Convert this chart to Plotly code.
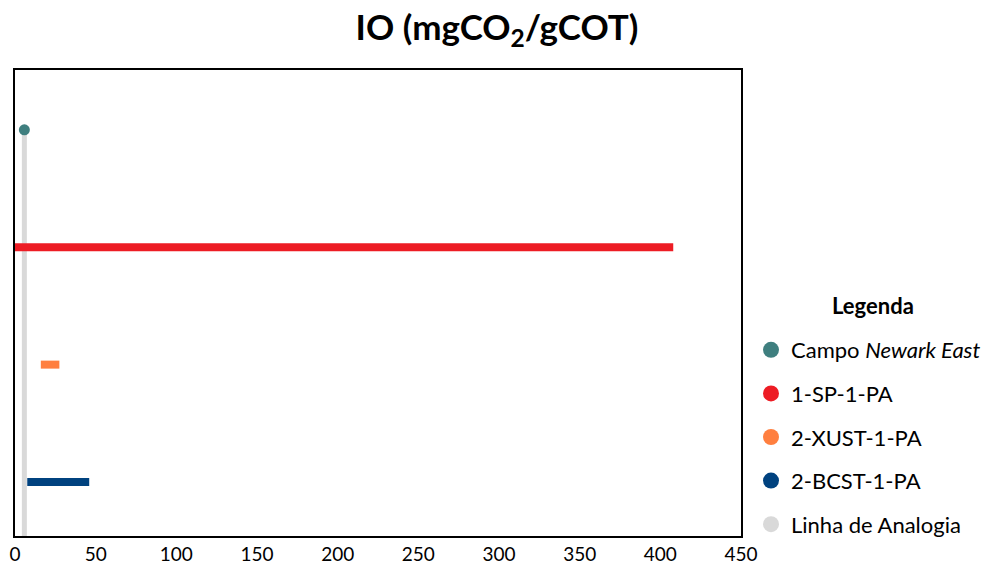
import plotly.graph_objects as go

# IO values (mgCO2/gCOT)
analogia_x = 5.8          # Newark East reference value / analogy line
campo_y = 4
poco_names = ["1-SP-1-PA", "2-XUST-1-PA", "2-BCST-1-PA"]
poco_min = [0, 16, 7.6]
poco_max = [408, 27.5, 46]
poco_y = [3, 2, 1]
poco_colors = ["#ED1C24", "#FF7F3F", "#00427F"]
y_bottom = 0.54
y_top = 4.51
x_ticks = [0, 50, 100, 150, 200, 250, 300, 350, 400, 450]

font_family = "Lato"
W, H = 994, 569
fig = go.Figure()

# analogy line
fig.add_trace(go.Scatter(
    x=[analogia_x, analogia_x], y=[y_bottom, campo_y], mode="lines",
    line=dict(color="#D9D9D9", width=5), showlegend=False, hoverinfo="skip"))

# well ranges
for name, lo, hi, y, c in zip(poco_names, poco_min, poco_max, poco_y, poco_colors):
    fig.add_trace(go.Scatter(
        x=[lo, hi], y=[y, y], mode="lines",
        line=dict(color=c, width=8), showlegend=False, name=name))

# field point
fig.add_trace(go.Scatter(
    x=[analogia_x], y=[campo_y], mode="markers",
    marker=dict(color="#3F7F7F", size=11), showlegend=False))

# legend entries
legend_items = [("Campo <i>Newark East</i>", "#3F7F7F")] + \
    list(zip(poco_names, poco_colors)) + [("Linha de Analogia", "#D9D9D9")]
for i, (label, c) in enumerate(legend_items):
    fig.add_trace(go.Scatter(
        x=[None], y=[None], mode="markers", name=label,
        marker=dict(color=c, size=20), legendgroup=f"g{i}", showlegend=True))

fig.add_annotation(text="<b>Legenda</b>", xref="paper", yref="paper",
                   x=(873 - 15) / 726, y=(536 - 305) / 466,
                   xanchor="center", yanchor="middle", showarrow=False,
                   font=dict(size=22, family=font_family))

fig.update_layout(
    width=W, height=H,
    margin=dict(l=15, r=253, t=70, b=33, autoexpand=False),
    paper_bgcolor="white", plot_bgcolor="white",
    font=dict(family=font_family, size=18, color="black"),
    title=dict(text="<b>IO (mgCO<sub>2</sub>/gCOT)</b>", x=0.5, xref="container",
               xanchor="center", y=0.952, yanchor="middle",
               font=dict(size=35, family=font_family)),
    xaxis=dict(range=[0, 450], tickvals=x_ticks, showgrid=False, zeroline=False,
               showline=True, mirror=True, linecolor="black", linewidth=1.5,
               ticks="", tickfont=dict(size=19), automargin=False),
    yaxis=dict(range=[y_bottom, y_top], showticklabels=False, showgrid=False,
               zeroline=False, showline=True, mirror=True, linecolor="black",
               linewidth=1.5, ticks="", automargin=False),
    legend=dict(x=(751 - 15) / 726, xanchor="left",
                y=(536 - 329) / 466, yanchor="top",
                traceorder="grouped", tracegroupgap=12,
                font=dict(size=22), itemsizing="trace"),
)

fig.write_html("out.html")
